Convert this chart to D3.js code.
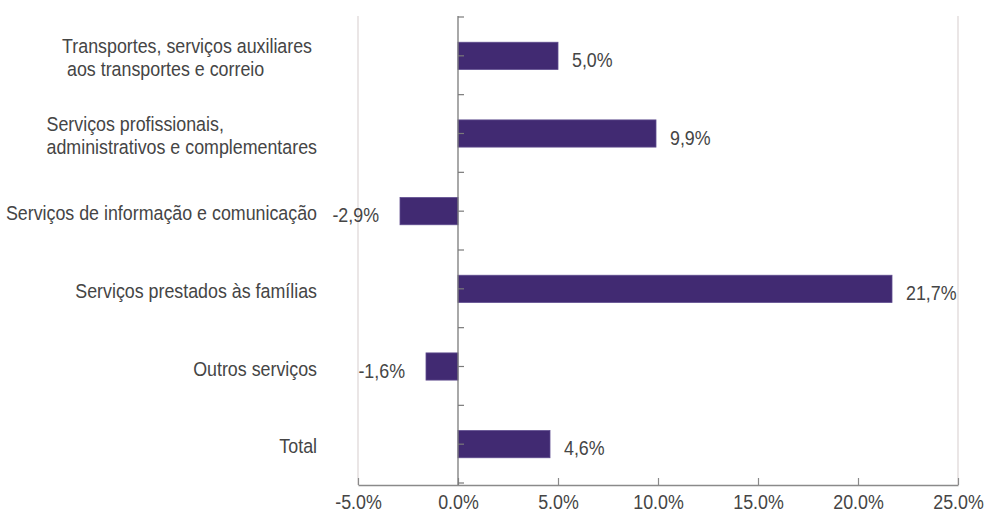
<!DOCTYPE html>
<html>
<head>
<meta charset="utf-8">
<script src="https://cdn.jsdelivr.net/npm/d3@7"></script>
<style>
  html, body { margin: 0; padding: 0; background: #ffffff; }
  svg { display: block; }
  text { font-family: "Liberation Sans", Arial, sans-serif; fill: #454545; }
</style>
</head>
<body>
<script>
// Categories (each entry is the list of lines of its label) and their growth rates (%)
const categories = [
  ["Transportes, serviços auxiliares ", " aos transportes e correio"],
  ["Serviços profissionais,", "administrativos e complementares"],
  ["Serviços de informação e comunicação"],
  ["Serviços prestados às famílias"],
  ["Outros serviços"],
  ["Total"]
];
const values = [5.0, 9.9, -2.9, 21.7, -1.6, 4.6];
const xTicks = [-5, 0, 5, 10, 15, 20, 25];

const W = 986, H = 513;
const FONT = 20.5, SX = 0.87;   // narrow lettering: horizontal squeeze

const svg = d3.select("body").append("svg")
  .attr("width", W).attr("height", H);

const x = d3.scaleLinear().domain([-5, 25]).range([358, 958]);
const y = d3.scaleBand()
  .domain(d3.range(categories.length))
  .range([17, 483])
  .paddingInner(0.65)
  .paddingOuter(0.325);

const plotTop = 16, plotBottom = 485;

// plain hyphen for negatives
const num = d3.formatLocale({ decimal: ".", thousands: ",", grouping: [3], currency: ["", ""], minus: "-" }).format(".1f");
const tickFmt = d => num(d) + "%";
const valFmt = v => num(v).replace(".", ",") + "%";

// light frame on left and right of the plot area
svg.selectAll("line.frame")
  .data([x.domain()[0], x.domain()[1]])
  .join("line")
  .attr("x1", d => x(d)).attr("x2", d => x(d))
  .attr("y1", plotTop).attr("y2", plotBottom)
  .attr("stroke", "#ddd6d6").attr("stroke-width", 1.2);

// value axis along the bottom, ticks pointing up
const xAxis = d3.axisBottom(x)
  .tickValues(xTicks)
  .tickSize(-7)
  .tickSizeOuter(0)
  .tickFormat(tickFmt);
const gx = svg.append("g")
  .attr("transform", `translate(0,${plotBottom})`)
  .call(xAxis);
gx.select(".domain").attr("stroke", "#8a8a8a").attr("stroke-width", 1.3);
gx.selectAll(".tick line").attr("stroke", "#8a8a8a").attr("stroke-width", 1.2);
gx.selectAll(".tick text").remove();
gx.selectAll(".tick").append("g")
  .attr("transform", `translate(0,24) scale(${SX},1)`)
  .append("text")
  .attr("text-anchor", "middle")
  .style("font-size", FONT + "px")
  .text(tickFmt);

// bars
svg.selectAll("rect.bar")
  .data(values)
  .join("rect")
  .attr("class", "bar")
  .attr("x", d => x(Math.min(0, d)))
  .attr("width", d => Math.abs(x(d) - x(0)))
  .attr("y", (d, i) => y(i))
  .attr("height", y.bandwidth())
  .attr("fill", "#412a72")
  .attr("stroke", "#5e4b8e")
  .attr("stroke-width", 0.8);

// category axis at zero with small marks at band centres and boundaries
svg.append("line")
  .attr("x1", x(0)).attr("x2", x(0))
  .attr("y1", plotTop).attr("y2", plotBottom)
  .attr("stroke", "#7a7a7a").attr("stroke-width", 1.3);
const markYs = [];
categories.forEach((c, i) => {
  markYs.push(y(i) - y.step() * y.paddingInner() / 2);
  markYs.push(y(i) + y.bandwidth() / 2);
});
markYs.push(y(categories.length - 1) + y.bandwidth() + y.step() * y.paddingInner() / 2);
svg.selectAll("line.mark")
  .data(markYs)
  .join("line")
  .attr("x1", x(0)).attr("x2", x(0) + 6)
  .attr("y1", d => d).attr("y2", d => d)
  .attr("stroke", "#7a7a7a").attr("stroke-width", 1.2);

// category labels, right-aligned blocks left of the frame
const labelRight = 317, lineH = 23;
categories.forEach((lines, i) => {
  const cy = y(i) + y.bandwidth() / 2;
  const g = svg.append("g")
    .attr("transform", `translate(${labelRight},${cy}) scale(${SX},1)`);
  const y0 = -(lines.length - 1) * lineH / 2 + 9;
  const texts = lines.map((ln, k) => g.append("text")
    .attr("y", y0 + k * lineH)
    .style("font-size", FONT + "px")
    .style("white-space", "pre")
    .text(ln));
  const maxW = d3.max(texts, t => t.node().getComputedTextLength());
  texts.forEach(t => t.attr("x", -maxW));
});

// value labels
values.forEach((v, i) => {
  const cy = y(i) + y.bandwidth() / 2;
  const px = v >= 0 ? x(v) + 14 : x(v) - 21;
  svg.append("g")
    .attr("transform", `translate(${px},${cy + 11}) scale(${SX},1)`)
    .append("text")
    .attr("text-anchor", v >= 0 ? "start" : "end")
    .style("font-size", FONT + "px")
    .text(valFmt(v));
});
</script>
</body>
</html>
